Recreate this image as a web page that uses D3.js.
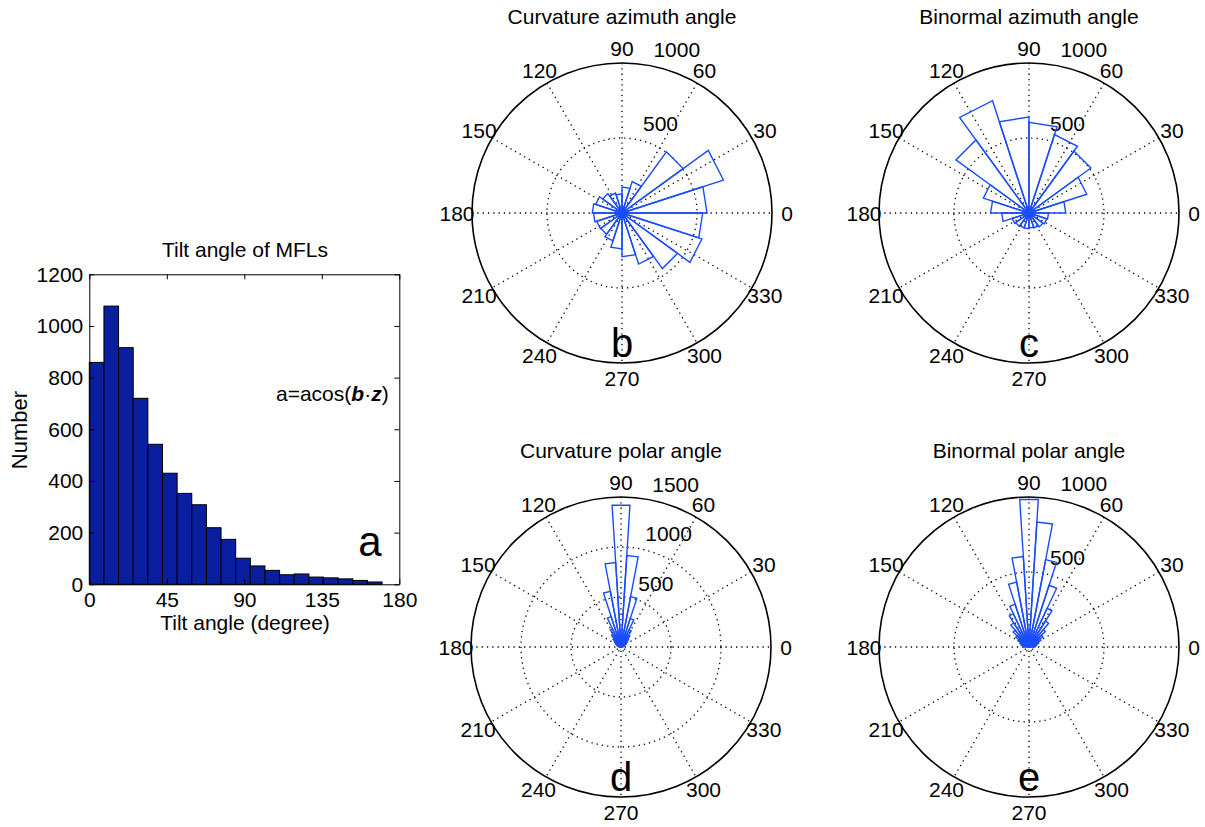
<!DOCTYPE html>
<html lang="en">
<head>
<meta charset="UTF-8" />
<title>Tilt and orientation angles of MFLs</title>
<script src="https://d3js.org/d3.v7.min.js"></script>
<style>
  body { margin: 0; background: #fff; }
  svg { font-family: "Liberation Sans", Arial, Helvetica, sans-serif; }
  .grid { stroke: #000; stroke-width: 1.3; stroke-dasharray: 1.3 4; fill: none; }
  .wedge { stroke: #1a4cff; stroke-width: 1.4; fill: none; stroke-linejoin: miter; }
</style>
</head>
<body>
<svg id="fig" width="1205" height="827"></svg>
<script>
// panel a: histogram of tilt angle
const tiltBinWidth = 8.5;
const tiltBinCenters = [4.25, 12.75, 21.25, 29.75, 38.25, 46.75, 55.25, 63.75, 72.25, 80.75,
                        89.25, 97.75, 106.25, 114.75, 123.25, 131.75, 140.25, 148.75, 157.25, 165.75];
const tiltCounts = [859, 1077, 916, 720, 542, 430, 352, 308, 219, 174,
                    101, 71, 54, 37, 40, 28, 25, 21, 15, 9];
const tiltTicks = [0, 45, 90, 135, 180];
const countTicks = [0, 200, 400, 600, 800, 1000, 1200];

// panels b, c: azimuth angles, 20 bins of 18 deg
const azBinWidth = 18;
const azBinStart = [0, 18, 36, 54, 72, 90, 108, 126, 144, 162,
                    180, 198, 216, 234, 252, 270, 288, 306, 324, 342];
const curvAzCounts = [567, 711, 504, 220, 173, 128, 140, 160, 185, 198,
                      190, 178, 175, 195, 240, 292, 358, 458, 560, 538];
const binAzCounts = [245, 405, 510, 550, 605, 640, 787, 602, 320, 256,
                     182, 118, 110, 105, 105, 100, 105, 115, 125, 130];

// panels d, e: polar angles, bins of 7.2 deg over 0-180
const polBinWidth = 7.2;
const polBinStart = [0, 7.2, 14.4, 21.6, 28.8, 36, 43.2, 50.4, 57.6, 64.8, 72, 79.2, 86.4,
                     93.6, 100.8, 108, 115.2, 122.4, 129.6, 136.8, 144, 151.2, 158.4, 165.6, 172.8];
const curvPolCounts = [10, 20, 30, 40, 55, 75, 105, 140, 190, 300, 513, 917, 1420,
                       847, 567, 320, 200, 150, 110, 80, 60, 45, 35, 25, 15];
const binPolCounts = [40, 45, 55, 70, 90, 115, 150, 205, 285, 433, 593, 835, 985,
                      604, 440, 300, 245, 190, 145, 110, 85, 65, 55, 45, 40];

const spokeAngles = [0, 30, 60, 90, 120, 150, 180, 210, 240, 270, 300, 330];
const azRings = [500, 1000];
const curvPolRings = [500, 1000, 1500];
const binPolRings = [500, 1000];

const svg = d3.select("#fig");

// ---------- histogram ----------
const hx = d3.scaleLinear().domain([0, 180]).range([89.3, 399.3]);
const hy = d3.scaleLinear().domain([0, 1200]).range([584.3, 274.3]);
const ha = svg.append("g");
const intFmt = d3.format("d");

ha.selectAll("rect")
  .data(tiltCounts)
  .enter()
  .append("rect")
  .attr("x", (d, i) => hx(tiltBinCenters[i] - tiltBinWidth / 2))
  .attr("width", (d, i) => hx(tiltBinCenters[i] + tiltBinWidth / 2) - hx(tiltBinCenters[i] - tiltBinWidth / 2))
  .attr("y", d => hy(d))
  .attr("height", d => hy(0) - hy(d))
  .attr("fill", "#0a1f9f")
  .attr("stroke", "#000")
  .attr("stroke-width", 1);

function styleAxis(g) {
  g.attr("font-family", null);
  g.selectAll("text").attr("font-size", 21).attr("fill", "#000");
  g.selectAll("line").attr("stroke", "#000");
  g.select(".domain").attr("stroke", "#000").attr("stroke-width", 1);
}

ha.append("g").attr("transform", "translate(0,584.3)")
  .call(d3.axisBottom(hx).tickValues(tiltTicks).tickFormat(intFmt).tickSizeInner(-5).tickSizeOuter(0).tickPadding(8))
  .call(styleAxis);
ha.append("g").attr("transform", "translate(0,274.3)")
  .call(d3.axisTop(hx).tickValues(tiltTicks).tickSizeInner(-5).tickSizeOuter(0).tickFormat(""))
  .call(styleAxis);
ha.append("g").attr("transform", "translate(89.3,0)")
  .call(d3.axisLeft(hy).tickValues(countTicks).tickFormat(intFmt).tickSizeInner(-5).tickSizeOuter(0).tickPadding(6))
  .call(styleAxis);
ha.append("g").attr("transform", "translate(399.3,0)")
  .call(d3.axisRight(hy).tickValues(countTicks).tickSizeInner(-5).tickSizeOuter(0).tickFormat(""))
  .call(styleAxis);

ha.append("text").attr("x", 245).attr("y", 257).attr("text-anchor", "middle")
  .attr("font-size", 21).text("Tilt angle of MFLs");
ha.append("text").attr("x", 245).attr("y", 630).attr("text-anchor", "middle")
  .attr("font-size", 21).text("Tilt angle (degree)");
ha.append("text").attr("transform", "translate(27,430) rotate(-90)").attr("text-anchor", "middle")
  .attr("font-size", 22).text("Number");

const formula = ha.append("text").attr("x", 276).attr("y", 401).attr("font-size", 21);
formula.append("tspan").text("a=acos(");
formula.append("tspan").attr("font-weight", "bold").attr("font-style", "italic").text("b");
formula.append("tspan").text("\u00b7");
formula.append("tspan").attr("font-weight", "bold").attr("font-style", "italic").text("z");
formula.append("tspan").text(")");

ha.append("text").attr("x", 370).attr("y", 556).attr("text-anchor", "middle")
  .attr("font-size", 42).text("a");

// ---------- rose plots ----------
function drawRose(cx, cy, rmax, rings, starts, width, counts, title, letter) {
  const R = 150;
  const r = d3.scaleLinear().domain([0, rmax]).range([0, R]);
  const pt = (deg, v) => [cx + r(v) * Math.cos(deg * Math.PI / 180), cy - r(v) * Math.sin(deg * Math.PI / 180)];
  const g = svg.append("g");

  // dotted spokes through centre
  g.selectAll(".spoke")
    .data(spokeAngles.filter(a => a > 0 && a <= 180))
    .enter()
    .append("line")
    .attr("class", "grid")
    .attr("x1", a => pt(a, rmax)[0]).attr("y1", a => pt(a, rmax)[1])
    .attr("x2", a => pt(a + 180, rmax)[0]).attr("y2", a => pt(a + 180, rmax)[1]);

  // dotted rings
  g.selectAll(".ring")
    .data(rings.filter(v => v < rmax))
    .enter()
    .append("circle")
    .attr("class", "grid")
    .attr("cx", cx).attr("cy", cy)
    .attr("r", v => r(v));

  // outer solid circle
  g.append("circle").attr("cx", cx).attr("cy", cy).attr("r", r(rmax))
    .attr("fill", "none").attr("stroke", "#000").attr("stroke-width", 1.6);

  // ring labels at 82 deg
  const rinc = rings[0];
  g.selectAll(".rlab")
    .data(rings)
    .enter()
    .append("text")
    .attr("x", v => pt(82, v + rinc / 20)[0] + 10)
    .attr("y", v => pt(82, v + rinc / 20)[1] - 4)
    .attr("font-size", 21)
    .text(v => v);

  // angle labels
  g.selectAll(".alab")
    .data(spokeAngles)
    .enter()
    .append("text")
    .attr("x", a => pt(a, rmax * 1.1)[0])
    .attr("y", a => pt(a, rmax * 1.1)[1])
    .attr("text-anchor", "middle")
    .attr("dominant-baseline", "central")
    .attr("font-size", 21)
    .text(a => a);

  // wedges
  const line = d3.line();
  g.selectAll(".wedge")
    .data(counts)
    .enter()
    .append("path")
    .attr("class", "wedge")
    .attr("d", (v, i) => line([[cx, cy], pt(starts[i], v), pt(starts[i] + width, v), [cx, cy]]));

  g.append("text").attr("x", cx).attr("y", cy - 189).attr("text-anchor", "middle")
    .attr("font-size", 21).text(title);
  g.append("text").attr("x", cx).attr("y", cy + 144).attr("text-anchor", "middle")
    .attr("font-size", 40).text(letter);
}

drawRose(622, 213, 1000, azRings, azBinStart, azBinWidth, curvAzCounts, "Curvature azimuth angle", "b");
drawRose(1029, 213, 1000, azRings, azBinStart, azBinWidth, binAzCounts, "Binormal azimuth angle", "c");
drawRose(621, 647, 1500, curvPolRings, polBinStart, polBinWidth, curvPolCounts, "Curvature polar angle", "d");
drawRose(1029, 647, 1000, binPolRings, polBinStart, polBinWidth, binPolCounts, "Binormal polar angle", "e");
</script>
</body>
</html>
